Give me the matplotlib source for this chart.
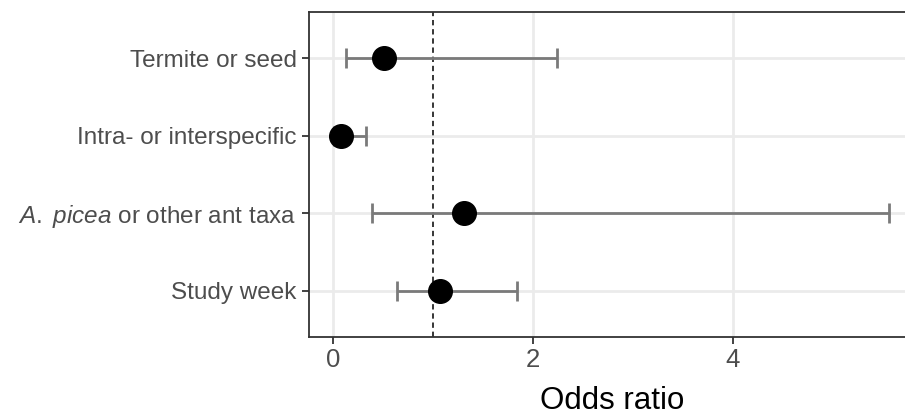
import matplotlib
matplotlib.use("Agg")
import matplotlib.pyplot as plt

plt.rcParams['font.family'] = ['Liberation Sans', 'DejaVu Sans']
plt.rcParams['mathtext.fontset'] = 'custom'
plt.rcParams['mathtext.rm'] = 'Liberation Sans'
plt.rcParams['mathtext.it'] = 'Liberation Sans:italic'

# data (top to bottom)
labels = ["Termite or seed", "Intra- or interspecific",
          r"$\it{A.}$ $\it{picea}$ or other ant taxa", "Study week"]
odds = [0.51, 0.08, 1.31, 1.07]
ci_low = [0.13, 0.01, 0.39, 0.64]
ci_high = [2.24, 0.33, 5.56, 1.84]

ypos = [4, 3, 2, 1]

fig = plt.figure(figsize=(9.05, 4.15), dpi=100)
# panel runs a little past the right edge of the image (cropped)
ax = fig.add_axes([309 / 905, 1 - 337 / 415, 606 / 905, 325 / 415])

err = [[o - l for o, l in zip(odds, ci_low)], [h - o for o, h in zip(odds, ci_high)]]
ax.errorbar(odds, ypos, xerr=err, fmt='none', ecolor='#7a7a7a',
            elinewidth=2, capsize=7.5, capthick=2, zorder=3)
ax.scatter(odds, ypos, s=17 ** 2, color='black', zorder=4)
ax.axvline(1, color='black', linestyle=(0, (3.5, 2.5)), linewidth=1.1, zorder=2)

ax.set_xlim(-0.24, 5.82)
ax.set_ylim(0.4, 4.6)
ax.set_xticks([0, 2, 4])
ax.set_yticks(ypos)
ax.set_yticklabels(labels)

ax.grid(True, color='#ebebeb', linewidth=2)
ax.set_axisbelow(True)
for s in ax.spines.values():
    s.set_color('#333333')
    s.set_linewidth(1.3)

ax.tick_params(axis='both', length=5, width=1.3, color='#333333',
               labelcolor='#4d4d4d', labelsize=17.5, pad=4)
ax.tick_params(axis='x', labelsize=18.5, pad=3)
ax.set_xlabel("Odds ratio", fontsize=22.5, color='black', labelpad=10)

fig.savefig("out.png", dpi=100)
